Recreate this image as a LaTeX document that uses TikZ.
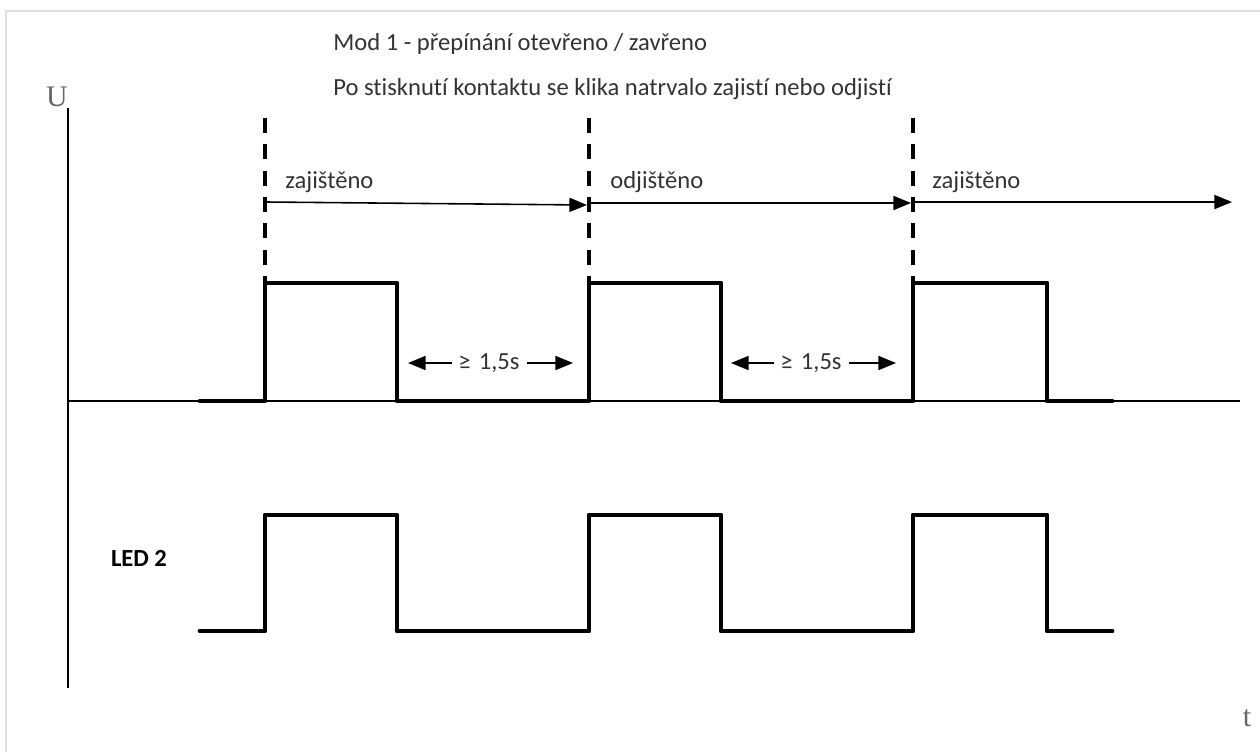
\documentclass[tikz,border=0pt]{standalone}
\usepackage{fontspec}
\setmainfont[Ligatures=NoCommon]{Carlito}
\newfontfamily\axisfont{Liberation Serif}
\usepackage{tikz}
\usetikzlibrary{arrows.meta}

\begin{document}
\begin{tikzpicture}[x=0.02cm,y=-0.02cm,
  signal/.style={color=black,line width=2.8pt,line join=round,line cap=round},
  marker/.style={color=black,line width=2.4pt,dash pattern=on 8.5pt off 6.5pt},
  span/.style={color=black,line width=0.9pt,-{Triangle[length=10pt,width=8pt]}},
  txt/.style={text=black!80,font=\fontsize{14}{17}\selectfont,inner sep=0pt,anchor=base west},
  axislabel/.style={text=black!60,font=\axisfont\fontsize{17}{19}\selectfont,inner sep=0pt}]
\useasboundingbox (0,0) rectangle (1260,752);
\draw[color=black!12,line width=1.2pt] (6,752) -- (6,11) -- (1260,11);
\draw[color=black,line width=1.2pt] (68,108) -- (68,688);
\draw[color=black,line width=1.3pt] (68,401) -- (1240,401);
\node[axislabel] (U) at (57,97) {U};
\node[axislabel] (t) at (1247,718) {t};
\node[txt] (mode) at (333,50) {Mod 1 - přepínání otevřeno / zavřeno};
\node[txt] (info) at (333,95) {Po stisknutí kontaktu se klika natrvalo zajistí nebo odjistí};
\foreach \x/\n in {265/a,589/b,913/c} {
  \coordinate (top\n) at (\x,118);
  \coordinate (bot\n) at (\x,282);
  \draw[marker] (top\n) -- (bot\n);
}
\coordinate (s1) at (267,202);
\coordinate (e1) at (587,205);
\coordinate (s2) at (591,203);
\coordinate (e2) at (911,203);
\coordinate (s3) at (915,202);
\coordinate (e3) at (1232,202);
\draw[span] (s1) -- (e1);
\draw[span] (s2) -- (e2);
\draw[span] (s3) -- (e3);
\node[txt] (lock1) at (285,188) {zajištěno};
\node[txt] (unlock) at (610,188) {odjištěno};
\node[txt] (lock2) at (932,188) {zajištěno};
\draw[signal] (200,401) -- (265,401) -- (265,283) -- (397,283) -- (397,401) -- (589,401) -- (589,283) -- (721,283) -- (721,401) -- (913,401) -- (913,283) -- (1047,283) -- (1047,401) -- (1112,401);
\draw[signal] (200,631) -- (265,631) -- (265,515) -- (397,515) -- (397,631) -- (589,631) -- (589,515) -- (721,515) -- (721,631) -- (913,631) -- (913,515) -- (1047,515) -- (1047,631) -- (1112,631);
\node[txt,anchor=center] (gap1) at (489,363) {≥\,\,1,5s};
\node[txt,anchor=center] (gap2) at (811,363) {≥\,\,1,5s};
\coordinate (g1l) at (452,363);
\coordinate (g1r) at (527,363);
\coordinate (g2l) at (774,363);
\coordinate (g2r) at (849,363);
\draw[span] (g1l) -- (408,363);
\draw[span] (g1r) -- (573,363);
\draw[span] (g2l) -- (731,363);
\draw[span] (g2r) -- (896,363);
\node[txt,font=\bfseries\fontsize{14}{17}\selectfont,text=black,anchor=center] (led) at (139,558) {LED 2};
\end{tikzpicture}
\end{document}
